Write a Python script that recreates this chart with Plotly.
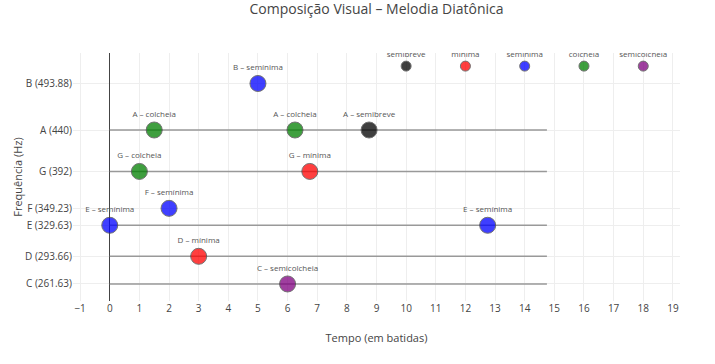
import plotly.graph_objects as go

# ---- data ----
note_names = ["C", "D", "E", "F", "G", "A", "B"]
note_freqs = [261.63, 293.66, 329.63, 349.23, 392.00, 440.00, 493.88]

melody_notes = ["E", "G", "A", "F", "D", "B", "C", "A", "G", "A", "E"]
melody_times = [0, 1, 1.5, 2, 3, 5, 6, 6.25, 6.75, 8.75, 12.75]
melody_durs = ["semínima", "colcheia", "colcheia", "semínima", "mínima", "semínima",
               "semicolcheia", "colcheia", "mínima", "semibreve", "semínima"]

dur_names = ["semibreve", "mínima", "semínima", "colcheia", "semicolcheia"]
dur_colors = ["black", "red", "blue", "green", "purple"]
key_x = [10, 12, 14, 16, 18]
key_y = 514

staff_notes = ["C", "D", "E", "G", "A"]
staff_start = 0
staff_end = 14.75

freq_of = dict(zip(note_names, note_freqs))
color_of = dict(zip(dur_names, dur_colors))

fig = go.Figure()

# staff lines
for n in staff_notes:
    fig.add_trace(go.Scatter(
        x=[staff_start, staff_end], y=[freq_of[n], freq_of[n]], mode="lines",
        line=dict(color="#999", width=1.5), hoverinfo="skip", showlegend=False))

# melody notes
fig.add_trace(go.Scatter(
    x=melody_times,
    y=[freq_of[n] for n in melody_notes],
    mode="markers+text",
    text=[f"{n} – {d}" for n, d in zip(melody_notes, melody_durs)],
    textposition="top center",
    textfont=dict(size=8, color="#555"),
    marker=dict(size=16, color=[color_of[d] for d in melody_durs], opacity=0.75,
                line=dict(color="#444", width=1)),
    showlegend=False))

# duration key
fig.add_trace(go.Scatter(
    x=key_x, y=[key_y] * len(key_x),
    mode="markers+text",
    text=dur_names,
    textposition="top center",
    textfont=dict(size=8, color="#555"),
    marker=dict(size=10, color=dur_colors, opacity=0.75,
                line=dict(color="#444", width=1)),
    showlegend=False))

fig.update_layout(
    template="none",
    width=715, height=364,
    margin=dict(l=73, r=35, t=53, b=63),
    font=dict(family="Open Sans", color="#444"),
    title=dict(text="Composição Visual – Melodia Diatônica", x=0.5, xref="paper",
               y=1 - 9 / 364, yanchor="middle", font=dict(size=14)),
    showlegend=False,
    plot_bgcolor="white", paper_bgcolor="white",
)
fig.update_xaxes(
    title=dict(text="Tempo (em batidas)", font=dict(size=11), standoff=20),
    range=[-1.24, 19.24], dtick=1, tick0=0,
    showgrid=True, gridcolor="#eee", zeroline=True, zerolinecolor="#444",
    zerolinewidth=1, tickfont=dict(size=10), showline=False, ticks="")
fig.update_yaxes(
    title=dict(text="Frequência (Hz)", font=dict(size=11)),
    range=[241.9, 529.2],
    tickvals=note_freqs,
    ticktext=[f"{n} ({f:g})" for n, f in zip(note_names, note_freqs)],
    showgrid=True, gridcolor="#eee", zeroline=False,
    tickfont=dict(size=10), showline=False, ticks="")

fig.write_html("out.html", config={"displayModeBar": False},
               post_script="document.body.style.margin='0';")
